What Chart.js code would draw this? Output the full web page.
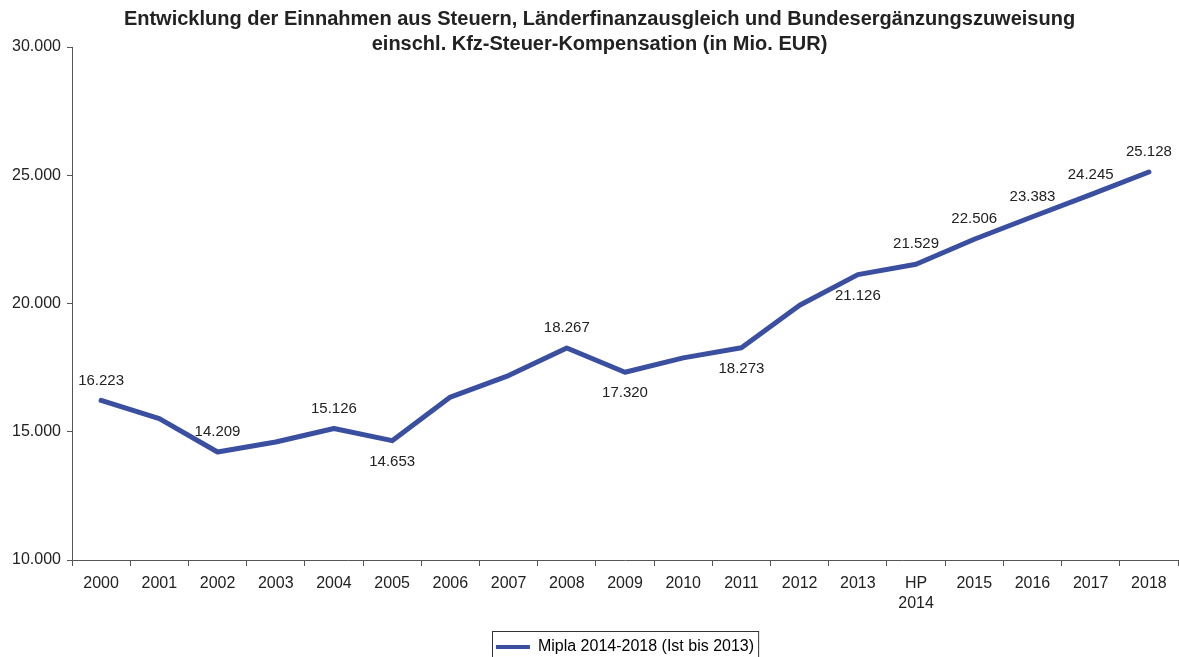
<!DOCTYPE html>
<html>
<head>
<meta charset="utf-8">
<script src="https://cdn.jsdelivr.net/npm/chart.js@4"></script>
<style>
    html, body { margin: 0; padding: 0; background: #fff; }
    #wrap { width: 1179px; height: 657px; }
</style>
</head>
<body>
<div id="wrap"><canvas id="lineChart"></canvas></div>
<script>
// Chart data
const years = ['2000', '2001', '2002', '2003', '2004', '2005', '2006', '2007', '2008', '2009',
    '2010', '2011', '2012', '2013', ['HP', '2014'], '2015', '2016', '2017', '2018'];
const revenue = [16223, 15510, 14209, 14600, 15126, 14653, 16350, 17190, 18267, 17320,
    17880, 18273, 19930, 21126, 21529, 22506, 23383, 24245, 25128];
// which points carry a value label ('up' / 'down'), null = no label
const labelSide = ['up', null, 'up', null, 'up', 'down', null, null, 'up', 'down',
    null, 'down', null, 'down', 'up', 'up', 'up', 'up', 'up'];
const yTicks = [10000, 15000, 20000, 25000, 30000];
const seriesName = 'Mipla 2014-2018 (Ist bis 2013)';
const chartTitle = ['Entwicklung der Einnahmen aus Steuern, Länderfinanzausgleich und Bundesergänzungszuweisung',
    'einschl. Kfz-Steuer-Kompensation (in Mio. EUR)'];

const FONT = "'Liberation Sans', Arial, sans-serif";
const BLUE = '#3a4fa0';
const TEXT = '#222222';
const AXIS = '#555555';

function formatDe(v) {
    return String(Math.round(v)).replace(/\B(?=(\d{3})+(?!\d))/g, '.');
}

// Value labels above / below the line
const valueLabels = {
    id: 'valueLabels',
    afterDatasetsDraw(chart) {
        const ctx = chart.ctx;
        const meta = chart.getDatasetMeta(0);
        ctx.save();
        ctx.font = '15px ' + FONT;
        ctx.fillStyle = TEXT;
        ctx.textAlign = 'center';
        ctx.textBaseline = 'middle';
        meta.data.forEach((pt, i) => {
            const side = labelSide[i];
            if (!side) return;
            const dy = side === 'up' ? -20 : 21;
            ctx.fillText(formatDe(revenue[i]), pt.x, pt.y + dy);
        });
        ctx.restore();
    }
};

// Title is centred over the whole picture minus a small left margin
const titleShift = {
    id: 'titleShift',
    afterLayout(chart) {
        if (chart.titleBlock) {
            chart.titleBlock.left = 20;
            chart.titleBlock.right = chart.width;
        }
    }
};

// Frame around the legend
const legendFrame = {
    id: 'legendFrame',
    afterDraw(chart) {
        const lg = chart.legend;
        if (!lg || !lg.legendHitBoxes || !lg.legendHitBoxes.length) return;
        const hb = lg.legendHitBoxes[0];
        const ctx = chart.ctx;
        ctx.save();
        ctx.strokeStyle = '#333';
        ctx.lineWidth = 1;
        ctx.strokeRect(Math.round(hb.left) - 3.5, Math.round(hb.top + hb.height / 2) - 15.5,
            hb.width + 8, 40);
        ctx.restore();
    }
};

function createLineChart() {
    const ctx = document.getElementById('lineChart').getContext('2d');
    new Chart(ctx, {
        type: 'line',
        data: {
            labels: years,
            datasets: [{
                label: seriesName,
                data: revenue,
                borderColor: BLUE,
                backgroundColor: BLUE,
                borderWidth: 5,
                borderJoinStyle: 'round',
                borderCapStyle: 'round',
                pointRadius: 0,
                tension: 0,
                fill: false
            }]
        },
        options: {
            responsive: true,
            maintainAspectRatio: false,
            animation: false,
            layout: {
                padding: { left: 0, right: 1, top: 0, bottom: -8 }
            },
            plugins: {
                title: {
                    display: true,
                    text: chartTitle,
                    color: TEXT,
                    font: { family: FONT, size: 20, weight: 'bold', lineHeight: '25px' },
                    padding: { top: 7, bottom: -10 }
                },
                legend: {
                    position: 'bottom',
                    fullSize: false,
                    labels: {
                        color: TEXT,
                        font: { family: FONT, size: 16 },
                        boxWidth: 34,
                        boxHeight: 4,
                        padding: 4,
                        generateLabels: () => [{
                            text: seriesName,
                            fillStyle: BLUE,
                            strokeStyle: BLUE,
                            lineWidth: 0,
                            datasetIndex: 0
                        }]
                    }
                },
                tooltip: { enabled: false }
            },
            scales: {
                x: {
                    offset: true,
                    grid: {
                        offset: true,
                        drawOnChartArea: false,
                        drawTicks: true,
                        tickLength: 6,
                        color: AXIS
                    },
                    border: { display: true, color: AXIS, width: 1 },
                    ticks: {
                        color: TEXT,
                        font: { family: FONT, size: 16, lineHeight: 1.25 },
                        padding: 8,
                        maxRotation: 0,
                        autoSkip: false
                    },
                    afterFit: (scale) => { scale.height = 75; }
                },
                y: {
                    min: yTicks[0],
                    max: yTicks[yTicks.length - 1],
                    afterBuildTicks: (scale) => {
                        scale.ticks = yTicks.map(v => ({ value: v }));
                    },
                    grid: {
                        drawOnChartArea: false,
                        drawTicks: true,
                        tickLength: 5,
                        color: AXIS
                    },
                    border: { display: true, color: AXIS, width: 1 },
                    ticks: {
                        color: TEXT,
                        font: { family: FONT, size: 16 },
                        padding: 6,
                        callback: (value) => formatDe(value)
                    },
                    afterFit: (scale) => { scale.width = 72; }
                }
            }
        },
        plugins: [titleShift, valueLabels, legendFrame]
    });
}

window.addEventListener('load', createLineChart);
</script>
</body>
</html>
